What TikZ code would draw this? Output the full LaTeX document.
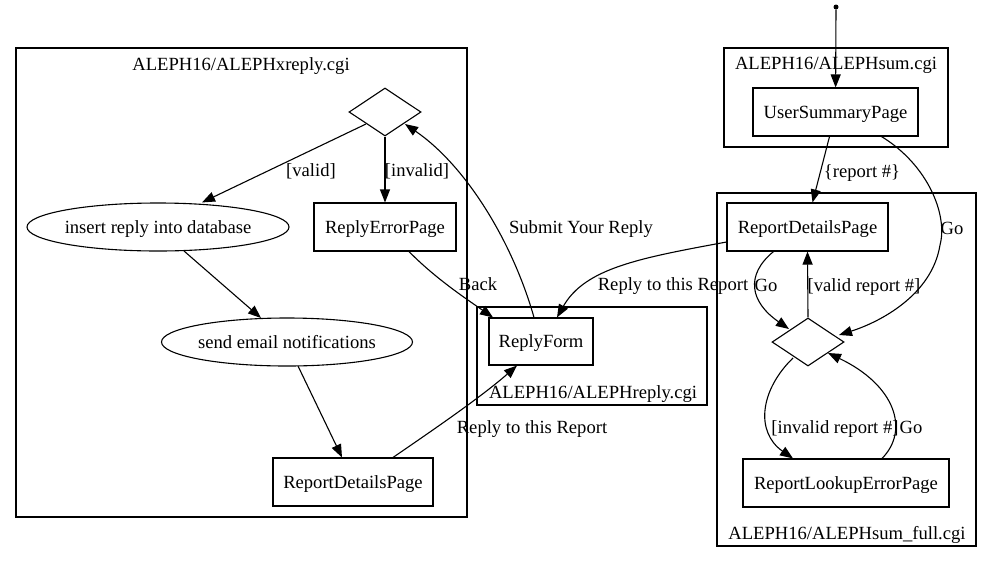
\documentclass[tikz,border=0pt]{standalone}
\usepackage{fontspec}
\setmainfont{Liberation Serif}
\usetikzlibrary{shapes.geometric,arrows.meta}
\begin{document}
\begin{tikzpicture}[x=1pt,y=-1pt,
  every node/.style={font=\fontsize{18.6}{22}\selectfont, inner sep=0pt, text height=12pt, text depth=0pt},
  box/.style={draw, line width=1.1pt, rectangle, minimum height=48pt},
  ell/.style={draw, line width=1.1pt, ellipse, minimum height=48pt},
  dia/.style={draw, line width=1.1pt, diamond, minimum width=72pt, minimum height=48pt},
  cluster/.style={draw, line width=1.1pt, rectangle},
  lbl/.style={},
  conn/.style={line width=1.1pt, -{Triangle[length=13pt,width=10pt]}},
]
\useasboundingbox (0,0) rectangle (992,563);

% clusters
\node[cluster, minimum width=451pt, minimum height=469pt] (c1) at (241.5,282.5) {};
\node[cluster, minimum width=230pt, minimum height=98pt] (c2) at (592,356) {};
\node[cluster, minimum width=224pt, minimum height=99pt] (c3) at (836,97.5) {};
\node[cluster, minimum width=259pt, minimum height=353pt] (c4) at (846.5,369.5) {};
\node (c1l) at (241,64) {ALEPH16/ALEPHxreply.cgi};
\node (c2l) at (593,392) {ALEPH16/ALEPHreply.cgi};
\node (c3l) at (836,63) {ALEPH16/ALEPHsum.cgi};
\node (c4l) at (847,533) {ALEPH16/ALEPHsum\_full.cgi};

% nodes
\node[circle, fill, minimum size=5pt, text height=0pt] (start) at (836,7) {};
\node[box, minimum width=165pt] (uss) at (835.5,112) {UserSummaryPage};
\node[box, minimum width=161pt] (rdp2) at (807.5,227) {ReportDetailsPage};
\node[dia] (d2) at (808,342) {};
\node[box, minimum width=206pt] (rlep) at (846,483) {ReportLookupErrorPage};

\node[dia] (d1) at (385,112) {};
\node[ell, minimum width=262pt] (ins) at (158,227) {\makebox[0pt]{insert reply into database}};
\node[box, minimum width=142pt] (rep) at (385,227) {ReplyErrorPage};
\node[ell, minimum width=251pt] (em) at (287,342) {\makebox[0pt]{send email notifications}};
\node[box, minimum width=160pt] (rdp1) at (353,482) {ReportDetailsPage};
\node[box, minimum width=104pt, minimum height=47pt] (rf) at (541,341.5) {ReplyForm};

% edges right
\draw[conn] (start) -- (uss);
\draw[conn] ([xshift=-6pt]uss.south) -- ([xshift=5pt]rdp2.north);
\draw[conn] ([xshift=46pt]uss.south) .. controls (928,165) and (948,215) .. (940,245)
  .. controls (932,295) and (880,322) .. ([shift={(31,-7)}]d2.center);
\draw[conn] ([xshift=-34pt]rdp2.south) .. controls (745,275) and (750,302) .. ([shift={(-19,-13)}]d2.center);
\draw[conn] (d2.north) -- (rdp2.south);
\draw[conn] ([shift={(-15,16)}]d2.center) .. controls (760,390) and (755,432) .. ([xshift=-53pt]rlep.north);
\draw[conn] ([xshift=36pt]rlep.north) .. controls (910,430) and (895,385) .. ([shift={(20,11)}]d2.center);
\draw[conn] ([shift={(-81,15)}]rdp2.center) .. controls (640,258) and (585,268) .. ([xshift=16pt]rf.north);

% edges left
\draw[conn] ([shift={(-19,12)}]d1.center) -- ([xshift=44pt]ins.north);
\draw[conn] (d1.south) -- (rep.north);
\draw[conn] ([shift={(26,24)}]ins.center) -- ([shift={(-26,-24)}]em.center);
\draw[conn] ([shift={(11,24)}]em.center) -- ([xshift=-11pt]rdp1.north);
\draw[conn] ([xshift=40pt]rdp1.north) .. controls (430,432) and (480,398) .. ([xshift=-24pt]rf.south);
\draw[conn] ([xshift=24pt]rep.south) .. controls (435,278) and (465,298) .. ([xshift=-48pt]rf.north);
\draw[conn] ([xshift=-7pt]rf.north) .. controls (512,240) and (465,165) .. ([shift={(20,12)}]d1.center);

% labels
\node[lbl] (l1) at (311,170) {[valid]};
\node[lbl] (l2) at (417,170) {[invalid]};
\node[lbl] (l3) at (478,284) {Back};
\node[lbl] (l4) at (581,227) {Submit Your Reply};
\node[lbl] (l5) at (673,284) {Reply to this Report};
\node[lbl] (l6) at (532,427) {Reply to this Report};
\node[lbl] (l7) at (862,171) {\{report \#\}};
\node[lbl] (l8) at (952,228) {Go};
\node[lbl] (l9) at (766,285) {Go};
\node[lbl] (l10) at (864,285) {[valid report \#]};
\node[lbl] (l11) at (835,427) {[invalid report \#]};
\node[lbl] (l12) at (911,427) {Go};
\end{tikzpicture}
\end{document}
